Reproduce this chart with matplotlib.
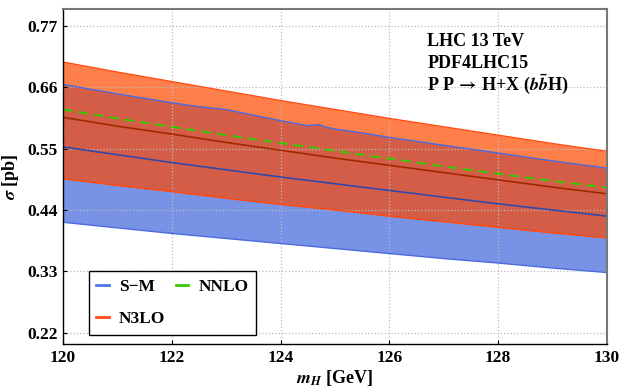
import matplotlib
matplotlib.use("Agg")
import matplotlib.pyplot as plt
import numpy as np

# ----------------------------
# Data
# ----------------------------
mH = [120, 121, 122, 123, 124, 125, 126, 127, 128, 129, 130]

# N3LO band and central value
n3lo_hi = [0.705, 0.687, 0.670, 0.653, 0.636, 0.620, 0.604, 0.589, 0.574, 0.559, 0.545]
n3lo_mid = [0.606, 0.590, 0.576, 0.561, 0.547, 0.533, 0.520, 0.507, 0.494, 0.481, 0.469]
n3lo_lo = [0.496, 0.484, 0.473, 0.461, 0.450, 0.440, 0.429, 0.419, 0.409, 0.399, 0.390]

# S-M band: upper edge is a bit wiggly, so it has its own mass points
sm_hi_mH = [120, 121, 122, 122.5, 123, 123.5, 124, 124.5, 124.7, 124.85, 125, 125.5, 126,
            127, 128, 129, 130]
sm_hi = [0.665, 0.648, 0.632, 0.625, 0.620, 0.610, 0.600, 0.591, 0.593, 0.588, 0.585, 0.578,
         0.570, 0.556, 0.542, 0.528, 0.515]
sm_mid = [0.553, 0.539, 0.525, 0.512, 0.499, 0.487, 0.475, 0.463, 0.451, 0.440, 0.429]
sm_lo = [0.418, 0.408, 0.398, 0.389, 0.380, 0.371, 0.362, 0.353, 0.345, 0.336, 0.328]

# NNLO central value
nnlo = [0.620, 0.604, 0.589, 0.574, 0.560, 0.546, 0.532, 0.518, 0.505, 0.492, 0.480]

yticks = [0.22, 0.33, 0.44, 0.55, 0.66, 0.77]
xticks = [120, 122, 124, 126, 128, 130]

# ----------------------------
# Style
# ----------------------------
plt.rcParams["font.family"] = ["Liberation Serif", "DejaVu Serif"]
plt.rcParams["font.weight"] = "bold"
plt.rcParams["mathtext.fontset"] = "stix"

col_blue_fill = "#7892E6"
col_orange_fill = "#FF7F4A"
col_overlap = "#D45D48"
col_blue_edge = "#4A6BE0"
col_orange_edge = "#FF4A10"

fig = plt.figure(figsize=(6.21, 3.89), dpi=100)
ax = fig.add_axes([63 / 621, 45 / 389, 544 / 621, 335 / 389])

# S-M band as a polygon so the overlap can be clipped to it
blue_x = sm_hi_mH + mH[::-1]
blue_y = sm_hi + sm_lo[::-1]
blue_poly = ax.fill(blue_x, blue_y, color=col_blue_fill, lw=0)[0]

ax.fill_between(mH, n3lo_lo, n3lo_hi, color=col_orange_fill, lw=0)
overlap = ax.fill_between(mH, n3lo_lo, n3lo_hi, color=col_overlap, lw=0)
overlap.set_clip_path(blue_poly)

ax.plot(sm_hi_mH, sm_hi, color=col_blue_edge, lw=1.0)
ax.plot(mH, sm_lo, color=col_blue_edge, lw=1.0)
ax.plot(mH, n3lo_hi, color=col_orange_edge, lw=1.0)
ax.plot(mH, n3lo_lo, color=col_orange_edge, lw=1.0)

ax.plot(mH, sm_mid, color="#3349A8", lw=1.2)
ax.plot(mH, n3lo_mid, color="#A02A00", lw=1.2)
ax.plot(mH, nnlo, color="#33CC00", lw=1.4, ls=(0, (5, 3)))

# legend handles
h_sm, = ax.plot([], [], color="#4A78E8", lw=2)
h_n3lo, = ax.plot([], [], color=col_orange_edge, lw=2)
h_nnlo, = ax.plot([], [], color="#33CC00", lw=2)
leg = ax.legend([h_sm, h_n3lo, h_nnlo], ["S\u2212M", "N3LO", "NNLO"],
                ncol=2, loc="lower left", bbox_to_anchor=(0.047, 0.027),
                fancybox=False, framealpha=1, edgecolor="black",
                prop={"size": 12.5, "weight": "bold"},
                handlelength=0.7, handletextpad=0.6, columnspacing=0.6,
                labelspacing=0.9, borderpad=0.45, borderaxespad=0)
leg.get_frame().set_linewidth(1.0)

ax.text(0.67, 0.89, "LHC 13 TeV", transform=ax.transAxes, fontsize=13, fontweight="bold")
ax.text(0.67, 0.824, "PDF4LHC15", transform=ax.transAxes, fontsize=13, fontweight="bold")
ax.text(0.67, 0.758, r"P P$\,\rightarrow\,$H+X ($\mathbfit{b}\bar{\mathbfit{b}}$H)",
        transform=ax.transAxes, fontsize=13, fontweight="bold")

ax.set_xlim(120, 130)
ax.set_ylim(0.20, 0.80)
ax.set_xticks(xticks)
ax.set_yticks(yticks)
ax.set_yticklabels([f"{v:.2f}" for v in yticks])
ax.tick_params(labelsize=12.5, direction="in", length=3, pad=4)
ax.grid(True, color="#BBBBBB", linestyle=":", linewidth=0.9)

ax.set_xlabel(r"$\mathbfit{m_H}$ [GeV]", fontsize=13, fontweight="bold", labelpad=2)
ax.set_ylabel(r"$\mathbfit{\sigma}$ [pb]", fontsize=13, fontweight="bold", labelpad=4)

for s in ["left", "bottom"]:
    ax.spines[s].set_color("black")
    ax.spines[s].set_linewidth(1.0)
for s in ["top", "right"]:
    ax.spines[s].set_color("#777777")
    ax.spines[s].set_linewidth(1.5)

fig.savefig("out.png", dpi=100)
